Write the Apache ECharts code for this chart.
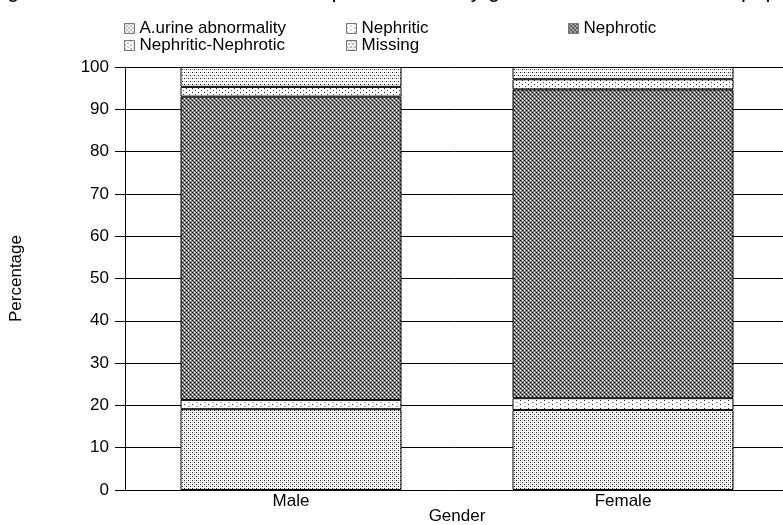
<!DOCTYPE html>
<html><head><meta charset="utf-8">
<script src="https://cdn.jsdelivr.net/npm/echarts@6/dist/echarts.min.js"></script>
<style>html,body{margin:0;padding:0;background:#fff}#c{width:783px;height:525px}</style>
</head><body><div id="c"></div>
<script>
// ---- data ----
const categories = ['Male', 'Female'];
const seriesNames = ['A.urine abnormality', 'Nephritic', 'Nephrotic', 'Nephritic-Nephrotic', 'Missing'];
const aUrine = [19.1, 18.9];
const nephritic = [2.2, 2.8];
const nephrotic = [71.7, 73.0];
const nephriticNephrotic = [2.3, 2.4];
const missing = [4.7, 2.9];
const titleText = 'Figure 1: Distribution of the clinical presentation by gender in the whole renal population';

// ---- patterns ----
function makePattern(w, h, bg, dots) {
  const c = document.createElement('canvas');
  c.width = w; c.height = h;
  const g = c.getContext('2d');
  g.fillStyle = bg; g.fillRect(0, 0, w, h);
  dots.forEach(d => { g.fillStyle = d[2]; g.fillRect(d[0], d[1], 1, 1); });
  return { image: c, repeat: 'repeat' };
}
const patterns = [
  makePattern(4, 4, '#fff', [[0,0,'#222'],[2,2,'#222'],[2,0,'#bbb'],[0,2,'#bbb']]),
  makePattern(8, 4, '#fff', [[0,0,'#222'],[4,2,'#999'],[5,2,'#bbb']]),
  makePattern(4, 4, '#8a8a8a', [[0,0,'#000'],[2,2,'#000'],[2,0,'#fff'],[0,2,'#fff'],[1,1,'#555'],[3,3,'#555']]),
  makePattern(6, 4, '#fff', [[0,0,'#222'],[3,2,'#444']]),
  makePattern(4, 6, '#fff', [[0,0,'#111'],[2,3,'#111'],[2,0,'#aaa'],[0,3,'#aaa']])
];
const seriesData = [aUrine, nephritic, nephrotic, nephriticNephrotic, missing];

const FONT = 'Liberation Sans';
const legendPos = [[124, 20], [346, 20], [568, 20], [124, 37], [346, 37]];
const legends = seriesNames.map((n, i) => ({
  data: [n], left: legendPos[i][0], top: legendPos[i][1], padding: 0,
  icon: 'rect', itemWidth: 10, itemHeight: 10,
  itemStyle: { borderColor: '#777', borderWidth: 1 },
  textStyle: { fontSize: 17, color: '#000', fontFamily: FONT },
  selectedMode: false
}));

const chart = echarts.init(document.getElementById('c'), null, { renderer: 'canvas' });
chart.setOption({
  animation: false,
  backgroundColor: '#fff',
  title: {
    text: titleText, left: -11, top: -20, padding: 0,
    textStyle: { fontSize: 22, fontWeight: 'normal', color: '#000', fontFamily: FONT }
  },
  legend: legends,
  grid: { left: 125, top: 67, width: 664, height: 423, containLabel: false, outerBoundsMode: 'none' },
  xAxis: {
    type: 'category', data: categories,
    axisLine: { lineStyle: { color: '#000', width: 1 } },
    axisTick: { show: false },
    axisLabel: { fontSize: 17, color: '#000', margin: 3, fontFamily: FONT },
    name: 'Gender', nameLocation: 'middle', nameGap: 18, nameMoveOverlap: false,
    nameTextStyle: { fontSize: 17, color: '#000', fontFamily: FONT }
  },
  yAxis: {
    type: 'value', min: 0, max: 100, interval: 10,
    axisLine: { show: true, lineStyle: { color: '#000', width: 1 } },
    axisTick: { show: true, length: 10, lineStyle: { color: '#000' } },
    splitLine: { show: true, lineStyle: { color: '#000', width: 1 } },
    axisLabel: { fontSize: 17, color: '#000', margin: 16, fontFamily: FONT },
    name: 'Percentage', nameLocation: 'middle', nameGap: 100, nameRotate: 90, nameMoveOverlap: false,
    nameTextStyle: { fontSize: 17, color: '#000', fontFamily: FONT }
  },
  series: seriesNames.map((n, i) => ({
    name: n, type: 'bar', stack: 'total', barWidth: 221,
    data: seriesData[i],
    itemStyle: { color: patterns[i], borderColor: '#000', borderWidth: 1 },
    emphasis: { disabled: true }
  }))
});
</script>
</body></html>
